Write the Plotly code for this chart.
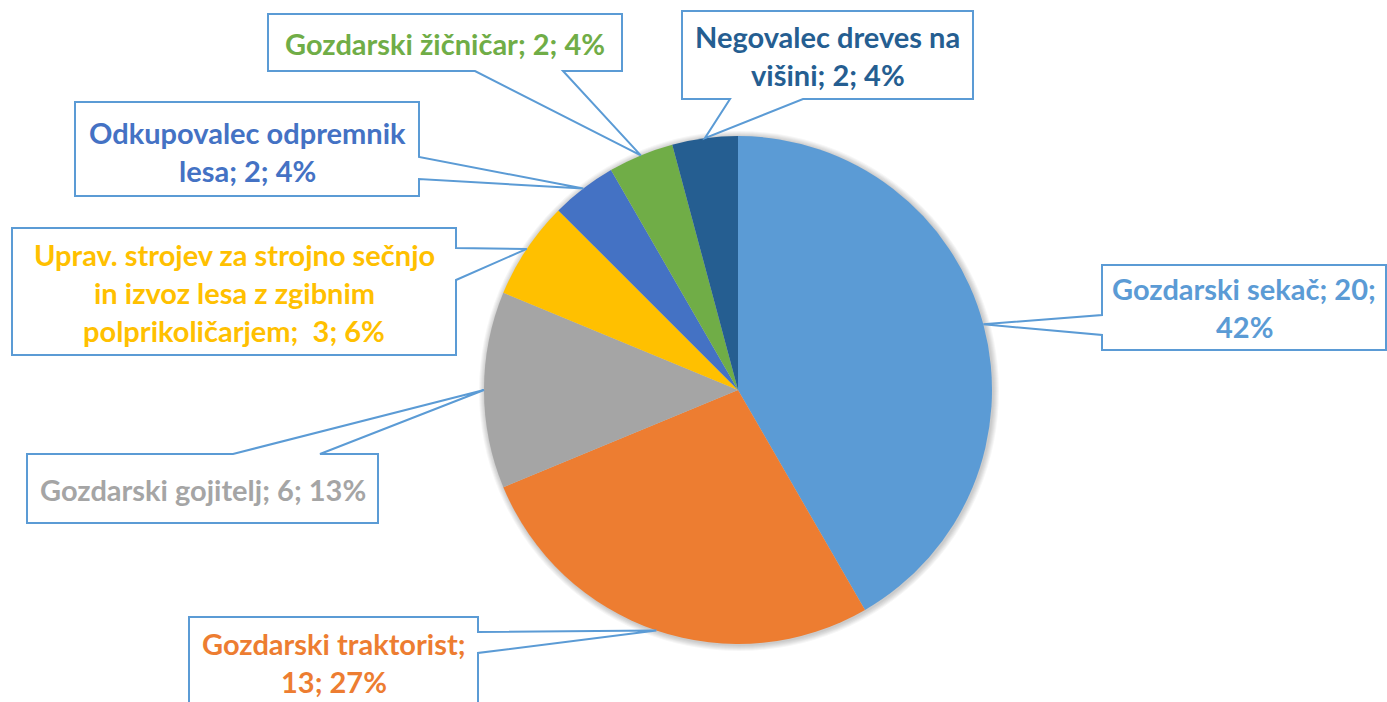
import math
import plotly.graph_objects as go

# ---------------- data ----------------
categories = [
    "Gozdarski sekač",
    "Gozdarski traktorist",
    "Gozdarski gojitelj",
    "Uprav. strojev za strojno sečnjo in izvoz lesa z zgibnim polprikoličarjem",
    "Odkupovalec odpremnik lesa",
    "Gozdarski žičničar",
    "Negovalec dreves na višini",
]
values = [20, 13, 6, 3, 2, 2, 2]
colors = ["#5B9BD5", "#ED7D31", "#A5A5A5", "#FFC000", "#4472C4", "#70AD47", "#255E91"]
label_lines = [
    ["Gozdarski sekač; 20;", "42%"],
    ["Gozdarski traktorist;", "13; 27%"],
    ["Gozdarski gojitelj; 6; 13%"],
    ["Uprav. strojev za strojno sečnjo", "in izvoz lesa z zgibnim", "polprikoličarjem;  3; 6%"],
    ["Odkupovalec odpremnik", "lesa; 2; 4%"],
    ["Gozdarski žičničar; 2; 4%"],
    ["Negovalec dreves na", "višini; 2; 4%"],
]

# ---------------- layout (pixels) ----------------
W, H = 1387, 702
CX, CY, R = 738, 390, 254
BORDER = "#5B9BD5"
FONT = "Lato"
FS = 29
LINE_H = 38

# callout boxes: (x0, y0, x1, y1), side of pointer, pointer base (a, b), text centre y
boxes = [
    ((1102, 265, 1386, 350), "left", (315, 335), 307.5),
    ((189, 617, 478, 740), "right", (632, 653), 662),
    ((27, 454, 378, 523), "top", (233, 320), 489),
    ((12, 228, 456, 355), "right", (248, 280), 292),
    ((75, 102, 419, 196), "right", (157, 179), 151),
    ((268, 14, 622, 71), "bottom", (475, 563), 43),
    ((682, 11, 973, 99), "bottom", (730, 803), 56),
]


def px(x):
    return x / W


def py(y):
    return 1 - y / H


total = sum(values)
fig = go.Figure()
fig.add_trace(go.Pie(
    labels=categories,
    values=values,
    sort=False,
    direction="clockwise",
    rotation=0,
    marker=dict(colors=colors, line=dict(width=0)),
    textinfo="none",
    hoverinfo="label+value+percent",
    showlegend=False,
    domain=dict(x=[px(CX - R), px(CX + R)], y=[py(CY + R), py(CY - R)]),
))

shapes = []
# soft shadow around the pie
for k in range(1, 7):
    shapes.append(dict(
        type="circle", xref="paper", yref="paper", layer="below",
        x0=px(CX - R - k + 1), x1=px(CX + R + k + 1),
        y0=py(CY + R + k + 1), y1=py(CY - R - k + 1),
        fillcolor="rgba(0,0,0,0.035)", line=dict(width=0),
    ))

annotations = []
cum = 0
for i, v in enumerate(values):
    mid = (cum + v / 2) / total * 2 * math.pi
    cum += v
    tx = CX + R * math.sin(mid)
    ty = CY - R * math.cos(mid)
    (x0, y0, x1, y1), side, (a, b), ymid = boxes[i]
    pts = [(x0, y0)]
    if side == "top":
        pts += [(a, y0), (tx, ty), (b, y0)]
    pts.append((x1, y0))
    if side == "right":
        pts += [(x1, a), (tx, ty), (x1, b)]
    pts.append((x1, y1))
    if side == "bottom":
        pts += [(b, y1), (tx, ty), (a, y1)]
    pts.append((x0, y1))
    if side == "left":
        pts += [(x0, b), (tx, ty), (x0, a)]
    path = "M " + " L ".join(f"{px(x):.5f},{py(y):.5f}" for x, y in pts) + " Z"
    shapes.append(dict(
        type="path", path=path, xref="paper", yref="paper", layer="above",
        fillcolor="white", line=dict(color=BORDER, width=2),
    ))
    lines = label_lines[i]
    n = len(lines)
    xc = (x0 + x1) / 2
    for j, t in enumerate(lines):
        yy = ymid + (j - (n - 1) / 2) * LINE_H
        annotations.append(dict(
            text=t, x=px(xc), y=py(yy), xref="paper", yref="paper",
            xanchor="center", yanchor="middle", showarrow=False,
            font=dict(family=FONT, size=FS, color=colors[i], weight=700),
        ))

fig.update_layout(
    width=W, height=H,
    margin=dict(l=0, r=0, t=0, b=0),
    paper_bgcolor="white", plot_bgcolor="white",
    shapes=shapes, annotations=annotations,
)

fig.write_html(
    "out.html",
    config={"displayModeBar": False},
    post_script="document.body.style.margin='0';document.documentElement.style.overflow='hidden';",
)
